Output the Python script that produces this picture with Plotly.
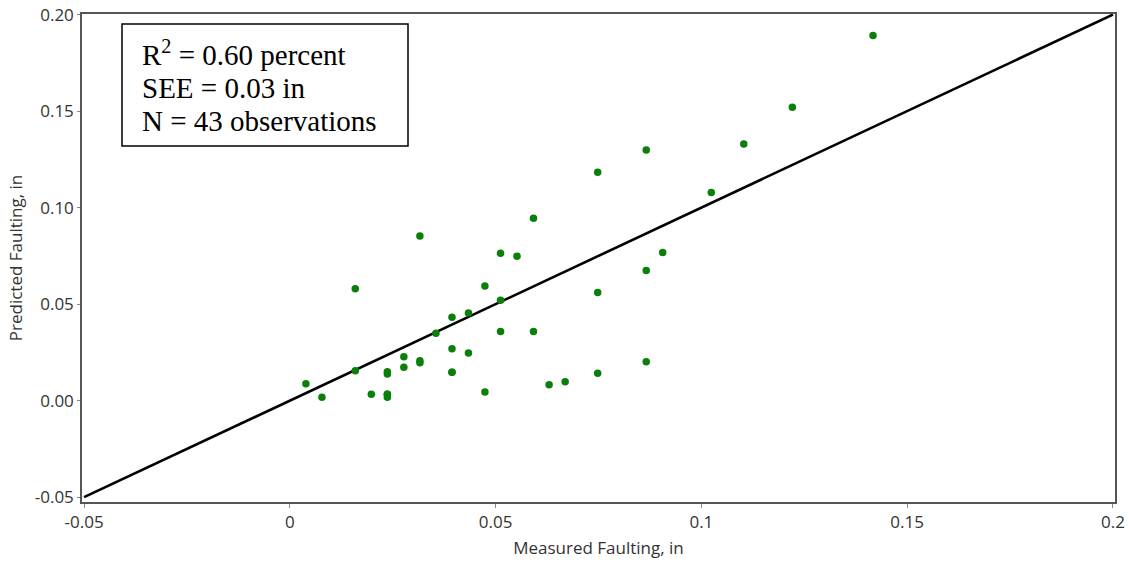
import plotly.graph_objects as go

measured = [0.0039, 0.0078, 0.0159, 0.0159, 0.0198, 0.0237, 0.0237, 0.0237, 0.0237,
            0.0277, 0.0277, 0.0316, 0.0316, 0.0316, 0.0355, 0.0394, 0.0394, 0.0394,
            0.0434, 0.0434, 0.0474, 0.0474, 0.0512, 0.0512, 0.0512, 0.0552, 0.0592,
            0.0592, 0.0630, 0.0669, 0.0748, 0.0748, 0.0866, 0.0866, 0.0906, 0.1417,
            0.1221, 0.1103, 0.0866, 0.0748, 0.1024, 0.0237, 0.0394]
predicted = [0.0087, 0.0018, 0.0580, 0.0155, 0.0033, 0.0150, 0.0138, 0.0033, 0.0018,
             0.0228, 0.0173, 0.0853, 0.0207, 0.0197, 0.0349, 0.0432, 0.0269, 0.0147,
             0.0454, 0.0247, 0.0594, 0.0045, 0.0764, 0.0520, 0.0358, 0.0748, 0.0945,
             0.0358, 0.0083, 0.0098, 0.0560, 0.0142, 0.0674, 0.0201, 0.0767, 0.1891,
             0.1520, 0.1330, 0.1299, 0.1183, 0.1078, 0.0033, 0.0147]

line_x = [-0.05, 0.2]
line_y = [-0.05, 0.2]

x_tickvals = [-0.05, 0, 0.05, 0.1, 0.15, 0.2]
x_ticktext = ["-0.05", "0", "0.05", "0.1", "0.15", "0.2"]
y_tickvals = [-0.05, 0.0, 0.05, 0.10, 0.15, 0.20]
y_ticktext = ["-0.05", "0.00", "0.05", "0.10", "0.15", "0.20"]

stats_lines = ["R<sup>2</sup> = 0.60 percent", "SEE = 0.03 in", "N = 43 observations"]

fig = go.Figure()
fig.add_trace(go.Scatter(x=line_x, y=line_y, mode="lines",
                         line=dict(color="black", width=2.6), showlegend=False,
                         hoverinfo="skip"))
fig.add_trace(go.Scatter(x=measured, y=predicted, mode="markers",
                         marker=dict(color="#0b7f0b", size=7.5), showlegend=False))

axis_font = dict(family="Open Sans, DejaVu Sans, sans-serif", size=17, color="#333333")

fig.update_layout(
    width=1129, height=563,
    margin=dict(l=82, r=14, t=14, b=61),
    paper_bgcolor="white", plot_bgcolor="white",
    xaxis=dict(range=[-0.0505, 0.2005], tickvals=x_tickvals, ticktext=x_ticktext,
               automargin=False,
               showgrid=False, zeroline=False, showline=True, linecolor="#555555",
               linewidth=1.5, mirror=True, ticks="outside", ticklen=4,
               tickcolor="#888888", tickfont=axis_font,
               title=dict(text="Measured Faulting, in", font=axis_font, standoff=10)),
    yaxis=dict(range=[-0.0525, 0.2003], tickvals=y_tickvals, ticktext=y_ticktext,
               automargin=False,
               showgrid=False, zeroline=False, showline=True, linecolor="#555555",
               linewidth=1.5, mirror=True, ticks="outside", ticklen=3,
               tickcolor="#888888", tickfont=axis_font,
               title=dict(text="Predicted Faulting, in", font=axis_font, standoff=8)),
)

fig.add_shape(type="rect", xref="paper", yref="paper",
              x0=(122 - 82) / 1033, x1=(408 - 82) / 1033,
              y0=(502 - 146) / 488, y1=(502 - 24) / 488,
              line=dict(color="black", width=1.5), fillcolor="white", layer="above")
line_centers = [53, 88, 121]
for txt, yc in zip(stats_lines, line_centers):
    fig.add_annotation(xref="paper", yref="paper",
                       x=(140 - 82) / 1033, y=(502 - yc) / 488,
                       xanchor="left", yanchor="middle", align="left", showarrow=False,
                       text=txt,
                       font=dict(family="Liberation Serif, Times New Roman, serif", size=29,
                                 color="black"))

fig.write_html("out.html")
